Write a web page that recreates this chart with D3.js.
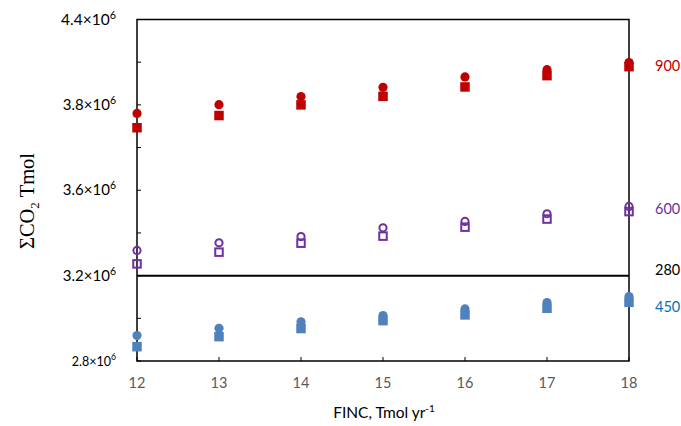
<!DOCTYPE html>
<html>
<head>
<meta charset="utf-8">
<script src="https://cdn.jsdelivr.net/npm/d3@7"></script>
<style>
  body { margin: 0; background: #fff; }
  text { font-family: Lato, "Open Sans", sans-serif; }
</style>
</head>
<body>
<div id="chart"></div>
<script>
const finc = [12, 13, 14, 15, 16, 17, 18];

// ΣCO2 (Tmol)
const red900Circle = [3.960e6, 4.001e6, 4.039e6, 4.082e6, 4.131e6, 4.165e6, 4.198e6];
const red900Square = [3.893e6, 3.950e6, 4.000e6, 4.040e6, 4.084e6, 4.137e6, 4.179e6];
const purple600Circle = [3.318e6, 3.354e6, 3.383e6, 3.424e6, 3.454e6, 3.490e6, 3.524e6];
const purple600Square = [3.255e6, 3.310e6, 3.352e6, 3.385e6, 3.427e6, 3.465e6, 3.500e6];
const blue450Circle = [2.919e6, 2.953e6, 2.984e6, 3.013e6, 3.044e6, 3.074e6, 3.102e6];
const blue450Square = [2.867e6, 2.914e6, 2.952e6, 2.989e6, 3.016e6, 3.047e6, 3.075e6];

const refLine = 3.2e6; // 280 ppm
const yTicks = [2.8e6, 3.2e6, 3.6e6, 4.0e6, 4.4e6];
const yTickLabels = ["2.8", "3.2", "3.6", "3.8", "4.4"];
const yMinorTicks = [3.0e6, 3.4e6, 3.8e6, 4.2e6];

const series = [
  { values: red900Circle, shape: "circle", color: "#c00000", fill: true },
  { values: red900Square, shape: "square", color: "#c00000", fill: true },
  { values: purple600Circle, shape: "circle", color: "#7030a0", fill: false },
  { values: purple600Square, shape: "square", color: "#7030a0", fill: false },
  { values: blue450Circle, shape: "circle", color: "#4f81bd", fill: true },
  { values: blue450Square, shape: "square", color: "#4f81bd", fill: true },
];

const rightLabels = [
  { text: "900", value: 4.18e6, color: "#c00000" },
  { text: "600", value: 3.51e6, color: "#7030a0" },
  { text: "280", value: 3.225e6, color: "#000" },
  { text: "450", value: 3.055e6, color: "#0070c0" },
];

const width = 681, height = 426;
const svg = d3.select("#chart").append("svg")
  .attr("width", width).attr("height", height);

const x = d3.scaleLinear().domain([12, 18]).range([137, 629]);
const y = d3.scaleLinear().domain([2.8e6, 4.4e6]).range([361, 19.5]);

// frame
svg.append("rect")
  .attr("x", x(12)).attr("y", y(4.4e6))
  .attr("width", x(18) - x(12)).attr("height", y(2.8e6) - y(4.4e6))
  .attr("fill", "none").attr("stroke", "#000").attr("stroke-width", 1.5);

// x axis ticks (inside)
svg.append("g").selectAll("line").data(finc).join("line")
  .attr("x1", d => x(d)).attr("x2", d => x(d))
  .attr("y1", y(2.8e6)).attr("y2", y(2.8e6) - 4)
  .attr("stroke", "#000").attr("stroke-width", 1);

svg.append("g").selectAll("text").data(finc).join("text")
  .attr("x", d => x(d)).attr("y", 388)
  .attr("text-anchor", "middle")
  .attr("font-size", 14.5).attr("fill", "#595959")
  .text(d => d);

// y axis ticks (inside)
svg.append("g").selectAll("line").data(yTicks.concat(yMinorTicks)).join("line")
  .attr("x1", x(12)).attr("x2", x(12) + 4)
  .attr("y1", d => y(d)).attr("y2", d => y(d))
  .attr("stroke", "#000").attr("stroke-width", 1);

const labelSizes = [12.5, 15, 15, 15, 15.5];
const yl = svg.append("g").selectAll("text").data(yTicks).join("text")
  .attr("x", 116).attr("y", (d, i) => y(d) + 5)
  .attr("text-anchor", "end")
  .attr("font-size", (d, i) => labelSizes[i]).attr("fill", "#000");
yl.append("tspan").text((d, i) => yTickLabels[i] + "×10");
yl.append("tspan").attr("dy", -6).attr("font-size", (d, i) => labelSizes[i] * 0.7).text("6");

// 280 ppm reference line
svg.append("line")
  .attr("x1", x(12)).attr("x2", x(18))
  .attr("y1", y(refLine)).attr("y2", y(refLine))
  .attr("stroke", "#000").attr("stroke-width", 2);

// markers
const r = 4.6;
series.forEach(s => {
  const g = svg.append("g");
  const pts = s.values.map((v, i) => [finc[i], v]);
  const sw = s.fill ? 0 : 2;
  if (s.shape === "circle") {
    g.selectAll("circle").data(pts).join("circle")
      .attr("cx", d => x(d[0])).attr("cy", d => y(d[1]))
      .attr("r", s.fill ? r : r - 1)
      .attr("fill", s.fill ? s.color : "none")
      .attr("stroke", s.fill ? "none" : s.color).attr("stroke-width", sw);
  } else {
    const side = s.fill ? 9.5 : 7.5;
    g.selectAll("rect").data(pts).join("rect")
      .attr("x", d => x(d[0]) - side / 2).attr("y", d => y(d[1]) - side / 2)
      .attr("width", side).attr("height", side)
      .attr("fill", s.fill ? s.color : "none")
      .attr("stroke", s.fill ? "none" : s.color).attr("stroke-width", sw);
  }
});

// right-hand labels
svg.append("g").selectAll("text").data(rightLabels).join("text")
  .attr("x", 655).attr("y", d => y(d.value) + 5)
  .attr("font-size", 14.5).attr("fill", d => d.color)
  .text(d => d.text);

// axis titles
const xt = svg.append("text")
  .attr("x", 384).attr("y", 418)
  .attr("text-anchor", "middle").attr("font-size", 15.5).attr("fill", "#000");
xt.append("tspan").text("FINC, Tmol yr");
xt.append("tspan").attr("dy", -6).attr("font-size", 10).text("-1");

const yt = svg.append("text")
  .attr("transform", "translate(34,201) rotate(-90)")
  .attr("text-anchor", "middle")
  .style("font-family", "'Liberation Serif', serif")
  .attr("font-size", 20.5).attr("fill", "#000");
yt.append("tspan").text("ΣCO");
yt.append("tspan").attr("dy", 5).attr("font-size", 13).text("2");
yt.append("tspan").attr("dy", -5).text(" Tmol");
</script>
</body>
</html>
